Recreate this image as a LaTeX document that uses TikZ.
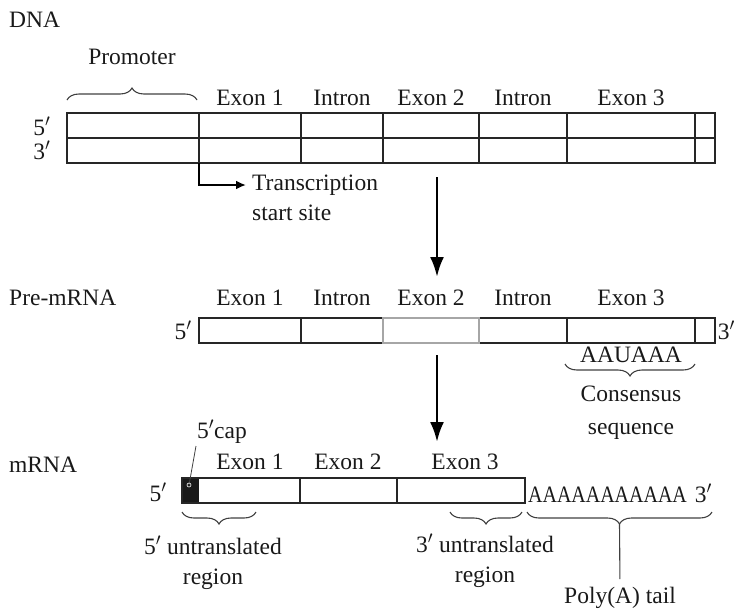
\documentclass[tikz,border=0pt]{standalone}
\usepackage{fontspec}
\setmainfont{Liberation Serif}
\usetikzlibrary{arrows,arrows.meta,decorations.pathreplacing,positioning,calc}

\begin{document}
\begin{tikzpicture}[x=1pt, y=-1pt,
    every node/.style={font=\fontsize{23.5}{30}\selectfont, inner sep=0pt, text=black!90},
    strand/.style={draw=black!85, line width=1.3pt},
    faded/.style={draw=black!35, line width=1.3pt},
    flow/.style={-{Latex[length=20pt,width=14pt]}, line width=2.8pt},
    curly/.style={decorate, decoration={brace, amplitude=12pt}, line width=1.1pt, draw=black!75},
    curlydown/.style={curly, decoration={brace, mirror, amplitude=12pt}}]
   \useasboundingbox (0,0) rectangle (735,611);

   % DNA, both strands
   \node[anchor=west] (dnalbl) at (9,20) {DNA};
   \node (promoter) at (132,57) {Promoter};
   \draw[curly] (67,100) -- (197,100);
   \node (d5) at (42,126) {5$'$};
   \node (d3) at (42,150) {3$'$};
   \draw[strand] (67,113) rectangle (715,163);
   \draw[strand] (67,138) -- (715,138);
   \foreach \x in {199,301,383,479,567,695}
    \draw[strand] (\x,113) -- (\x,163);
   \foreach \x/\t in {250/Exon 1, 342/Intron, 431/Exon 2, 523/Intron, 631/Exon 3}
    \node (dx\x) at (\x,98) {\t};

   \coordinate (tss) at (199,163);
   \node[anchor=west] (tsslbl) at (252,185) {Transcription};
   \node[anchor=west] (tsslbl2) at (252,213) {start site};
   \draw[-{Latex[length=10pt,width=9pt]}, line width=2.3pt, shorten >=6pt] (tss) |- (tsslbl.west);

   \coordinate (t1) at (437,177);
   \coordinate (h1) at (437,277);
   \draw[flow] (t1) -- (h1);

   % pre-mRNA, Exon 2 in grey
   \node[anchor=west] (prelbl) at (9,298) {Pre-mRNA};
   \node (p5) at (183,330) {5$'$};
   \node[anchor=east] (p3) at (735,330) {3$'$};
   \draw[strand] (383,318) -- (199,318) -- (199,343) -- (383,343);
   \draw[strand] (479,318) -- (715,318) -- (715,343) -- (479,343);
   \foreach \x in {301,567,695}
    \draw[strand] (\x,318) -- (\x,343);
   \draw[faded] (383,318) rectangle (479,343);
   \foreach \x/\t in {250/Exon 1, 342/Intron, 431/Exon 2, 523/Intron, 631/Exon 3}
    \node (px\x) at (\x,298) {\t};

   \node (signal) at (631,355) {AAUAAA};
   \draw[curlydown] (565,364) -- (695,364);
   \node[align=center, font=\fontsize{23.5}{33}\selectfont] (consensus) at (631,413) {Consensus\\sequence};

   \coordinate (t2) at (437,355);
   \coordinate (h2) at (437,442);
   \draw[flow] (t2) -- (h2);

   % mature mRNA
   \node[anchor=west] (mlbl) at (9,465) {mRNA};
   \node (m5) at (158,492) {5$'$};
   \fill[black!90] (182,478) rectangle (199,503);
   \draw[strand] (182,478) rectangle (525,503);
   \foreach \x in {300,397}
    \draw[strand] (\x,478) -- (\x,503);
   \foreach \x/\t in {250/Exon 1, 348/Exon 2, 465/Exon 3}
    \node (mx\x) at (\x,462) {\t};

   \node (cap) at (222,432) {5$'$cap};
   \coordinate (capdot) at (189,485);
   \draw[line width=0.8pt, black!75] (196,446) -- (capdot);
   \draw[white, line width=0.6pt] (capdot) circle (2);

   \node[anchor=west] (tail) at (528,493) {\scalebox{0.85}[1]{AAAAAAAAAAA}\hspace{8pt}3$'$};

   \draw[curlydown] (182,512) -- (256,512);
   \node[align=center] (utr5) at (213,563) {5$'$ untranslated\\region};
   \draw[curlydown] (450,512) -- (522,512);
   \node[align=center] (utr3) at (485,561) {3$'$ untranslated\\region};
   \draw[curlydown] (527,512) -- (712,512);
   \coordinate (polytip) at (619.5,524);
   \node (polya) at (620,598) {Poly(A) tail};
   \draw[line width=1.1pt, black!75, shorten >=8pt] (polytip) -- (polya.north);
\end{tikzpicture}
\end{document}
